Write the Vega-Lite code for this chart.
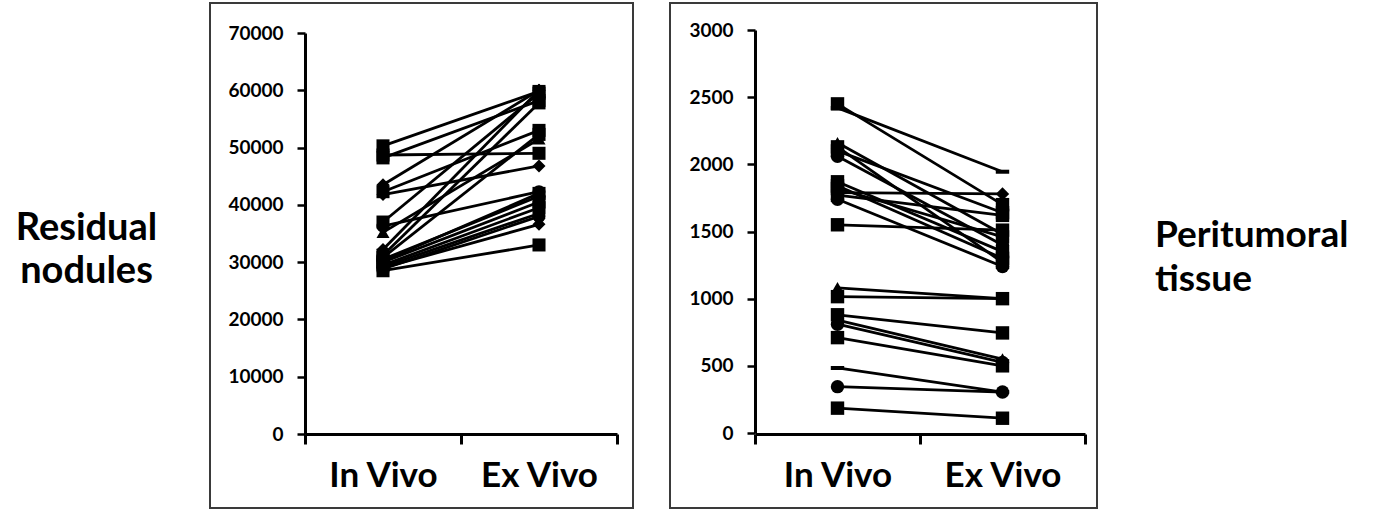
{
  "$schema": "https://vega.github.io/schema/vega-lite/v6.json",
  "padding": {"left": 0, "top": 2, "right": 0, "bottom": 0},
  "background": "white",
  "bounds": "flush",
  "spacing": 37,
  "config": {"font": "Lato", "view": {"stroke": null}},
  "datasets": {
    "labels_left": [{"label": "Residual\nnodules"}],
    "labels_right": [{"label": "Peritumoral\ntissue"}],
    "residual": [
      {"series": "S1", "condition": "In Vivo", "value": 50300}, {"series": "S1", "condition": "Ex Vivo", "value": 59800},
      {"series": "S2", "condition": "In Vivo", "value": 48200}, {"series": "S2", "condition": "Ex Vivo", "value": 58200},
      {"series": "S3", "condition": "In Vivo", "value": 48700}, {"series": "S3", "condition": "Ex Vivo", "value": 49000},
      {"series": "S4", "condition": "In Vivo", "value": 43500}, {"series": "S4", "condition": "Ex Vivo", "value": 60000},
      {"series": "S5", "condition": "In Vivo", "value": 42300}, {"series": "S5", "condition": "Ex Vivo", "value": 53000},
      {"series": "S6", "condition": "In Vivo", "value": 41800}, {"series": "S6", "condition": "Ex Vivo", "value": 46800},
      {"series": "S7", "condition": "In Vivo", "value": 37000}, {"series": "S7", "condition": "Ex Vivo", "value": 59500},
      {"series": "S8", "condition": "In Vivo", "value": 36300}, {"series": "S8", "condition": "Ex Vivo", "value": 42300},
      {"series": "S9", "condition": "In Vivo", "value": 35200}, {"series": "S9", "condition": "Ex Vivo", "value": 51500},
      {"series": "S10", "condition": "In Vivo", "value": 32200}, {"series": "S10", "condition": "Ex Vivo", "value": 60000},
      {"series": "S11", "condition": "In Vivo", "value": 31200}, {"series": "S11", "condition": "Ex Vivo", "value": 57800},
      {"series": "S12", "condition": "In Vivo", "value": 30800}, {"series": "S12", "condition": "Ex Vivo", "value": 52300},
      {"series": "S13", "condition": "In Vivo", "value": 30500}, {"series": "S13", "condition": "Ex Vivo", "value": 41500},
      {"series": "S14", "condition": "In Vivo", "value": 30000}, {"series": "S14", "condition": "Ex Vivo", "value": 40500},
      {"series": "S15", "condition": "In Vivo", "value": 29500}, {"series": "S15", "condition": "Ex Vivo", "value": 39500},
      {"series": "S16", "condition": "In Vivo", "value": 29200}, {"series": "S16", "condition": "Ex Vivo", "value": 38500},
      {"series": "S17", "condition": "In Vivo", "value": 29000}, {"series": "S17", "condition": "Ex Vivo", "value": 36600},
      {"series": "S18", "condition": "In Vivo", "value": 28500}, {"series": "S18", "condition": "Ex Vivo", "value": 33000},
      {"series": "S19", "condition": "In Vivo", "value": 30200}, {"series": "S19", "condition": "Ex Vivo", "value": 42000},
      {"series": "S20", "condition": "In Vivo", "value": 28800}, {"series": "S20", "condition": "Ex Vivo", "value": 38000}
    ],
    "peritumoral": [
      {"series": "P1", "condition": "In Vivo", "value": 2450}, {"series": "P1", "condition": "Ex Vivo", "value": 1700},
      {"series": "P2", "condition": "In Vivo", "value": 2420}, {"series": "P2", "condition": "Ex Vivo", "value": 1945},
      {"series": "P3", "condition": "In Vivo", "value": 2160}, {"series": "P3", "condition": "Ex Vivo", "value": 1480},
      {"series": "P4", "condition": "In Vivo", "value": 2130}, {"series": "P4", "condition": "Ex Vivo", "value": 1270},
      {"series": "P5", "condition": "In Vivo", "value": 2100}, {"series": "P5", "condition": "Ex Vivo", "value": 1640},
      {"series": "P6", "condition": "In Vivo", "value": 2060}, {"series": "P6", "condition": "Ex Vivo", "value": 1400},
      {"series": "P7", "condition": "In Vivo", "value": 1870}, {"series": "P7", "condition": "Ex Vivo", "value": 1350},
      {"series": "P8", "condition": "In Vivo", "value": 1840}, {"series": "P8", "condition": "Ex Vivo", "value": 1300},
      {"series": "P9", "condition": "In Vivo", "value": 1820}, {"series": "P9", "condition": "Ex Vivo", "value": 1460},
      {"series": "P10", "condition": "In Vivo", "value": 1790}, {"series": "P10", "condition": "Ex Vivo", "value": 1780},
      {"series": "P11", "condition": "In Vivo", "value": 1770}, {"series": "P11", "condition": "Ex Vivo", "value": 1620},
      {"series": "P12", "condition": "In Vivo", "value": 1740}, {"series": "P12", "condition": "Ex Vivo", "value": 1240},
      {"series": "P13", "condition": "In Vivo", "value": 1550}, {"series": "P13", "condition": "Ex Vivo", "value": 1510},
      {"series": "P14", "condition": "In Vivo", "value": 1080}, {"series": "P14", "condition": "Ex Vivo", "value": 1000},
      {"series": "P15", "condition": "In Vivo", "value": 1015}, {"series": "P15", "condition": "Ex Vivo", "value": 1000},
      {"series": "P16", "condition": "In Vivo", "value": 880}, {"series": "P16", "condition": "Ex Vivo", "value": 745},
      {"series": "P17", "condition": "In Vivo", "value": 840}, {"series": "P17", "condition": "Ex Vivo", "value": 550},
      {"series": "P18", "condition": "In Vivo", "value": 810}, {"series": "P18", "condition": "Ex Vivo", "value": 525},
      {"series": "P19", "condition": "In Vivo", "value": 710}, {"series": "P19", "condition": "Ex Vivo", "value": 500},
      {"series": "P20", "condition": "In Vivo", "value": 484}, {"series": "P20", "condition": "Ex Vivo", "value": 305},
      {"series": "P21", "condition": "In Vivo", "value": 345}, {"series": "P21", "condition": "Ex Vivo", "value": 305},
      {"series": "P22", "condition": "In Vivo", "value": 185}, {"series": "P22", "condition": "Ex Vivo", "value": 110}
    ]
  },
  "hconcat": [
    {
      "width": 173,
      "height": 452,
      "data": {"name": "labels_left"},
      "mark": {"type": "text", "font": "Lato", "fontWeight": "bold", "fontSize": 38, "lineHeight": 43, "lineBreak": "\n", "align": "center", "baseline": "middle", "color": "black"},
      "encoding": {"text": {"field": "label", "type": "nominal"}}
    },
    {
      "width": 423,
      "height": 505,
      "view": {"stroke": "#3a3a3a", "strokeWidth": 2, "fill": "white"},
      "data": {"name": "residual"},
      "encoding": {
        "x": {
          "field": "condition", "type": "nominal", "sort": ["In Vivo", "Ex Vivo"],
          "scale": {"type": "band", "range": [95, 407], "paddingInner": 0, "paddingOuter": 0},
          "axis": {"title": null, "orient": "bottom", "offset": -74, "tickBand": "extent", "tickSize": 10, "tickWidth": 3, "tickColor": "black", "domainWidth": 3, "domainColor": "black", "labelAngle": 0, "labelFont": "Lato", "labelFontSize": 35, "labelFontWeight": "bold", "labelColor": "black", "labelPadding": 14, "labelFlush": false, "labelOverlap": false, "grid": false}
        },
        "y": {
          "field": "value", "type": "quantitative",
          "scale": {"domain": [0, 70000], "range": [431, 30], "nice": false, "zero": true},
          "axis": {"title": null, "orient": "left", "offset": -95, "values": [0, 10000, 20000, 30000, 40000, 50000, 60000, 70000], "format": "d", "tickSize": 8, "tickWidth": 2.5, "tickColor": "black", "domainWidth": 3, "domainColor": "black", "labelFont": "Lato", "labelFontSize": 19, "labelFontWeight": "bold", "labelColor": "black", "labelPadding": 14, "labelFlush": false, "labelOverlap": false, "grid": false}
        }
      },
      "layer": [
        {"mark": {"type": "line", "color": "black", "strokeWidth": 2.8}, "encoding": {"detail": {"field": "series", "type": "nominal"}}},
        {"transform": [{"filter": {"field": "series", "oneOf": ["S1","S2","S3","S5","S7","S11","S12","S14","S15","S18","S19"]}}],
         "mark": {"type": "point", "shape": "square", "filled": true, "color": "black", "opacity": 1, "size": 170}},
        {"transform": [{"filter": {"field": "series", "oneOf": ["S4","S6","S10","S17"]}}],
         "mark": {"type": "point", "shape": "diamond", "filled": true, "color": "black", "opacity": 1, "size": 170}},
        {"transform": [{"filter": {"field": "series", "oneOf": ["S8","S13","S20"]}}],
         "mark": {"type": "point", "shape": "circle", "filled": true, "color": "black", "opacity": 1, "size": 170}},
        {"transform": [{"filter": {"field": "series", "oneOf": ["S9","S16"]}}],
         "mark": {"type": "point", "shape": "triangle-up", "filled": true, "color": "black", "opacity": 1, "size": 170}}
      ]
    },
    {
      "width": 427,
      "height": 505,
      "view": {"stroke": "#3a3a3a", "strokeWidth": 2, "fill": "white"},
      "data": {"name": "peritumoral"},
      "encoding": {
        "x": {
          "field": "condition", "type": "nominal", "sort": ["In Vivo", "Ex Vivo"],
          "scale": {"type": "band", "range": [85, 415], "paddingInner": 0, "paddingOuter": 0},
          "axis": {"title": null, "orient": "bottom", "offset": -74, "tickBand": "extent", "tickSize": 10, "tickWidth": 3, "tickColor": "black", "domainWidth": 3, "domainColor": "black", "labelAngle": 0, "labelFont": "Lato", "labelFontSize": 35, "labelFontWeight": "bold", "labelColor": "black", "labelPadding": 14, "labelFlush": false, "labelOverlap": false, "grid": false}
        },
        "y": {
          "field": "value", "type": "quantitative",
          "scale": {"domain": [0, 3000], "range": [430, 27], "nice": false, "zero": true},
          "axis": {"title": null, "orient": "left", "offset": -85, "values": [0, 500, 1000, 1500, 2000, 2500, 3000], "format": "d", "tickSize": 8, "tickWidth": 2.5, "tickColor": "black", "domainWidth": 3, "domainColor": "black", "labelFont": "Lato", "labelFontSize": 19, "labelFontWeight": "bold", "labelColor": "black", "labelPadding": 14, "labelFlush": false, "labelOverlap": false, "grid": false}
        }
      },
      "layer": [
        {"mark": {"type": "line", "color": "black", "strokeWidth": 2.8}, "encoding": {"detail": {"field": "series", "type": "nominal"}}},
        {"transform": [{"filter": {"field": "series", "oneOf": ["P1","P4","P5","P7","P8","P9","P11","P13","P15","P16","P19","P22"]}}],
         "mark": {"type": "point", "shape": "square", "filled": true, "color": "black", "opacity": 1, "size": 180}},
        {"transform": [{"filter": {"field": "series", "oneOf": ["P2","P20"]}}],
         "mark": {"type": "point", "shape": "M-1,-0.3H1V0.3H-1Z", "filled": true, "color": "black", "opacity": 1, "size": 180}},
        {"transform": [{"filter": {"field": "series", "oneOf": ["P3","P14","P17"]}}],
         "mark": {"type": "point", "shape": "triangle-up", "filled": true, "color": "black", "opacity": 1, "size": 180}},
        {"transform": [{"filter": {"field": "series", "oneOf": ["P6","P12","P18","P21"]}}],
         "mark": {"type": "point", "shape": "circle", "filled": true, "color": "black", "opacity": 1, "size": 180}},
        {"transform": [{"filter": {"field": "series", "oneOf": ["P10"]}}],
         "mark": {"type": "point", "shape": "diamond", "filled": true, "color": "black", "opacity": 1, "size": 180}}
      ]
    },
    {
      "width": 42,
      "height": 465,
      "data": {"name": "labels_right"},
      "mark": {"type": "text", "font": "Lato", "fontWeight": "bold", "fontSize": 37, "lineHeight": 44, "lineBreak": "\n", "align": "left", "baseline": "middle", "color": "black"},
      "encoding": {"text": {"field": "label", "type": "nominal"}}
    }
  ]
}
